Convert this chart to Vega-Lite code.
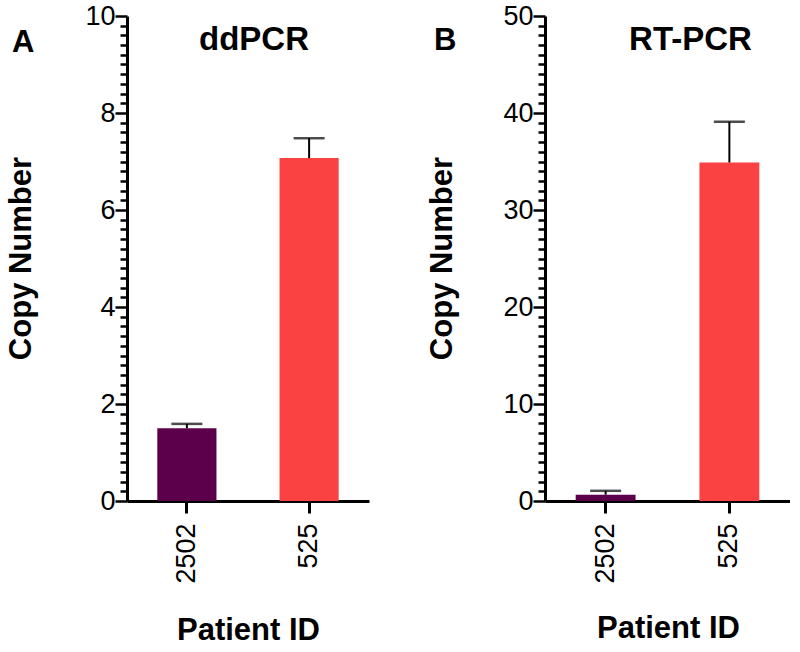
{
  "$schema": "https://vega.github.io/schema/vega-lite/v6.json",
  "padding": {"left": 5, "top": 2, "right": 0, "bottom": 0},
  "background": "white",
  "config": {
    "view": {"stroke": null},
    "font": "Liberation Sans",
    "concat": {"spacing": 57}
  },
  "datasets": {
    "ddpcr": [
      {"patient": "2502", "copies": 1.5, "upper": 1.59},
      {"patient": "525", "copies": 7.07, "upper": 7.48}
    ],
    "rtpcr": [
      {"patient": "2502", "copies": 0.65, "upper": 1.05},
      {"patient": "525", "copies": 34.9, "upper": 39.1}
    ]
  },
  "hconcat": [
    {
      "title": {"text": "A", "anchor": "start", "frame": "bounds", "fontSize": 31, "fontWeight": "bold", "font": "Liberation Sans", "color": "black", "offset": 0, "dx": 7, "dy": 81, "baseline": "alphabetic"},
      "vconcat": [
        {
          "width": 242,
          "height": 485,
          "title": {"text": "ddPCR", "anchor": "middle", "fontSize": 33, "fontWeight": "bold", "font": "Liberation Sans", "color": "black", "offset": 0, "dx": 6, "dy": 81, "baseline": "alphabetic"},
          "data": {"name": "ddpcr"},
          "encoding": {
            "x": {
              "field": "patient", "type": "nominal", "sort": ["2502", "525"],
              "scale": {"domain": ["2502", "525"], "paddingInner": 0.516, "paddingOuter": 0.248},
              "axis": {
                "title": "Patient ID", "titleFont": "Liberation Sans", "titleFontSize": 31, "titleFontWeight": "bold", "titleColor": "black",
                "titleX": 121, "titleY": 138, "titleBaseline": "alphabetic", "titleAlign": "center",
                "labelAngle": 270, "labelFontSize": 27, "labelFont": "Liberation Sans", "labelColor": "black", "labelPadding": 10,
                "domainColor": "black", "domainWidth": 3, "tickColor": "black", "tickWidth": 3, "tickSize": 12, "grid": false
              }
            }
          },
          "layer": [
            {
              "mark": {"type": "bar"},
              "encoding": {
                "y": {
                  "field": "copies", "type": "quantitative",
                  "scale": {"domain": [0, 10], "nice": false},
                  "axis": {
                    "title": "Copy Number", "titleFont": "Liberation Sans", "titleFontSize": 31, "titleFontWeight": "bold", "titleColor": "black",
                    "titleX": -97, "titleY": 242, "titleBaseline": "alphabetic", "titleAlign": "center", "titleAngle": 270,
                    "values": [0, 0.2, 0.4, 0.6, 0.8, 1, 1.2, 1.4, 1.6, 1.8, 2, 2.2, 2.4, 2.6, 2.8, 3, 3.2, 3.4, 3.6, 3.8, 4, 4.2, 4.4, 4.6, 4.8, 5, 5.2, 5.4, 5.6, 5.8, 6, 6.2, 6.4, 6.6, 6.8, 7, 7.2, 7.4, 7.6, 7.8, 8, 8.2, 8.4, 8.6, 8.8, 9, 9.2, 9.4, 9.6, 9.8, 10],
                    "tickCount": 100,
                    "labelExpr": "abs(datum.value - round(datum.value / 2) * 2) < 0.001 ? '' + round(datum.value) : ''",
                    "labelOverlap": false, "labelBound": false, "labelFlush": false,
                    "labelFontSize": 27, "labelFont": "Liberation Sans", "labelColor": "black", "labelPadding": 0,
                    "domainColor": "black", "domainWidth": 3, "tickColor": "black", "tickWidth": 2.5,
                    "tickSize": {"condition": {"test": "abs(datum.value - round(datum.value / 2) * 2) < 0.001", "value": 12}, "value": 7},
                    "grid": false
                  }
                },
                "color": {
                  "field": "patient", "type": "nominal",
                  "scale": {"domain": ["2502", "525"], "range": ["#5d004b", "#fb4242"]},
                  "legend": null
                }
              }
            },
            {
              "mark": {"type": "rule", "color": "black", "strokeWidth": 2},
              "encoding": {
                "y": {"field": "copies", "type": "quantitative"},
                "y2": {"field": "upper"}
              }
            },
            {
              "mark": {"type": "tick", "color": "black", "thickness": 2.5, "size": 31, "orient": "horizontal"},
              "encoding": {
                "y": {"field": "upper", "type": "quantitative"}
              }
            }
          ]
        }
      ]
    },
    {
      "title": {"text": "B", "anchor": "start", "frame": "bounds", "fontSize": 31, "fontWeight": "bold", "font": "Liberation Sans", "color": "black", "offset": 0, "dx": 8, "dy": 79, "baseline": "alphabetic"},
      "vconcat": [
        {
          "width": 245,
          "height": 485,
          "title": {"text": "RT-PCR", "anchor": "middle", "fontSize": 33, "fontWeight": "bold", "font": "Liberation Sans", "color": "black", "offset": 0, "dx": 23, "dy": 81, "baseline": "alphabetic"},
          "data": {"name": "rtpcr"},
          "encoding": {
            "x": {
              "field": "patient", "type": "nominal", "sort": ["2502", "525"],
              "scale": {"domain": ["2502", "525"], "paddingInner": 0.516, "paddingOuter": 0.248},
              "axis": {
                "title": "Patient ID", "titleFont": "Liberation Sans", "titleFontSize": 31, "titleFontWeight": "bold", "titleColor": "black",
                "titleX": 123, "titleY": 136, "titleBaseline": "alphabetic", "titleAlign": "center",
                "labelAngle": 270, "labelFontSize": 27, "labelFont": "Liberation Sans", "labelColor": "black", "labelPadding": 10,
                "domainColor": "black", "domainWidth": 3, "tickColor": "black", "tickWidth": 3, "tickSize": 12, "grid": false
              }
            }
          },
          "layer": [
            {
              "mark": {"type": "bar"},
              "encoding": {
                "y": {
                  "field": "copies", "type": "quantitative",
                  "scale": {"domain": [0, 50], "nice": false},
                  "axis": {
                    "title": "Copy Number", "titleFont": "Liberation Sans", "titleFontSize": 31, "titleFontWeight": "bold", "titleColor": "black",
                    "titleX": -94, "titleY": 242, "titleBaseline": "alphabetic", "titleAlign": "center", "titleAngle": 270,
                    "values": [0, 1, 2, 3, 4, 5, 6, 7, 8, 9, 10, 11, 12, 13, 14, 15, 16, 17, 18, 19, 20, 21, 22, 23, 24, 25, 26, 27, 28, 29, 30, 31, 32, 33, 34, 35, 36, 37, 38, 39, 40, 41, 42, 43, 44, 45, 46, 47, 48, 49, 50],
                    "tickCount": 100,
                    "labelExpr": "datum.value % 10 === 0 ? '' + round(datum.value) : ''",
                    "labelOverlap": false, "labelBound": false, "labelFlush": false,
                    "labelFontSize": 27, "labelFont": "Liberation Sans", "labelColor": "black", "labelPadding": 0,
                    "domainColor": "black", "domainWidth": 3, "tickColor": "black", "tickWidth": 2.5,
                    "tickSize": {"condition": {"test": "datum.value % 10 === 0", "value": 12}, "value": 7},
                    "grid": false
                  }
                },
                "color": {
                  "field": "patient", "type": "nominal",
                  "scale": {"domain": ["2502", "525"], "range": ["#5d004b", "#fb4242"]},
                  "legend": null
                }
              }
            },
            {
              "mark": {"type": "rule", "color": "black", "strokeWidth": 2},
              "encoding": {
                "y": {"field": "copies", "type": "quantitative"},
                "y2": {"field": "upper"}
              }
            },
            {
              "mark": {"type": "tick", "color": "black", "thickness": 2.5, "size": 31, "orient": "horizontal"},
              "encoding": {
                "y": {"field": "upper", "type": "quantitative"}
              }
            }
          ]
        }
      ]
    }
  ]
}
